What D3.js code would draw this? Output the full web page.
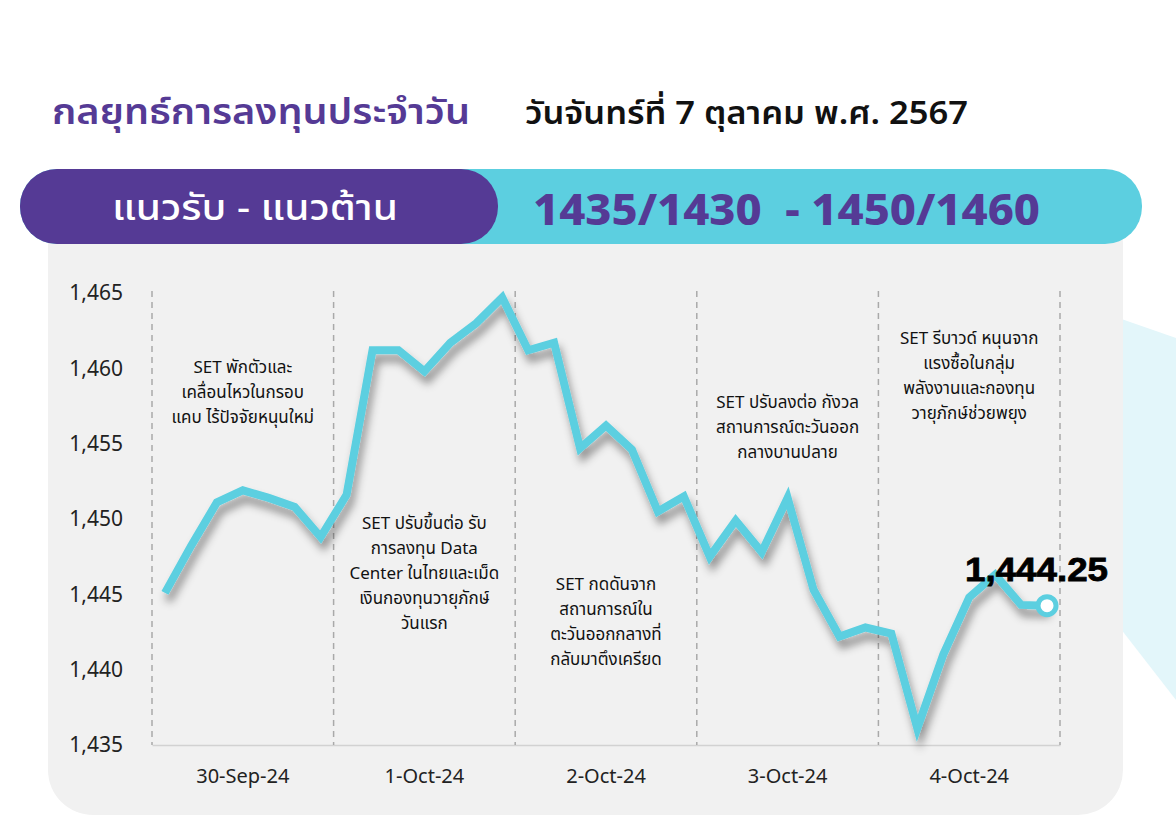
<!DOCTYPE html>
<html><head><meta charset="utf-8">
<script src="https://cdn.jsdelivr.net/npm/d3@7"></script>
<style>html,body{margin:0;padding:0;background:#fff;}svg{display:block;}</style>
</head><body>
<svg id="c" width="1176" height="840"></svg>
<script>
const days = ["30-Sep-24","1-Oct-24","2-Oct-24","3-Oct-24","4-Oct-24"];
const pointsPerDay = 7;
const values = [
  1445.1, 1448.2, 1451.1, 1451.9, 1451.4, 1450.8, 1448.8,
  1451.6, 1461.2, 1461.2, 1459.8, 1461.7, 1463.0, 1464.7,
  1461.2, 1461.7, 1454.7, 1456.2, 1454.6, 1450.5, 1451.5,
  1447.5, 1449.9, 1447.8, 1451.4, 1445.3, 1442.2, 1442.8,
  1442.4, 1436.1, 1441.0, 1444.8, 1446.3, 1444.3, 1444.25
];
const yTicks = [1435, 1440, 1445, 1450, 1455, 1460, 1465];
const notes = [
  ["SET พักตัวและ","เคลื่อนไหวในกรอบ","แคบ ไร้ปัจจัยหนุนใหม่"],
  ["SET ปรับขึ้นต่อ รับ","การลงทุน Data","Center ในไทยและเม็ด","เงินกองทุนวายุภักษ์","วันแรก"],
  ["SET กดดันจาก","สถานการณ์ใน","ตะวันออกกลางที่","กลับมาตึงเครียด"],
  ["SET ปรับลงต่อ กังวล","สถานการณ์ตะวันออก","กลางบานปลาย"],
  ["SET รีบาวด์ หนุนจาก","แรงซื้อในกลุ่ม","พลังงานและกองทุน","วายุภักษ์ช่วยพยุง"]
];
const noteValue = [1459.7, 1449.35, 1445.3, 1457.4, 1461.6];
const title = "กลยุทธ์การลงทุนประจำวัน";
const dateText = "วันจันทร์ที่ 7 ตุลาคม พ.ศ. 2567";
const bandLeft = "แนวรับ - แนวต้าน";
const bandRight = "1435/1430  - 1450/1460";
const lastLabel = "1,444.25";

const purple = "#553a95", cyan = "#5ccfe0";
const font = "'Noto Sans', 'Noto Sans Thai', Roboto, sans-serif";
const svg = d3.select("#c");

const defs = svg.append("defs");
const f = defs.append("filter").attr("id","sh").attr("x","-10%").attr("y","-10%").attr("width","120%").attr("height","130%");
f.append("feDropShadow").attr("dx",3).attr("dy",8).attr("stdDeviation",4).attr("flood-color","#000").attr("flood-opacity",0.4);

// decorative background shape
svg.append("path").attr("d","M1110,315 L1176,338 L1176,700 L1110,615 Z").attr("fill","#e3f6fa");

// panel
svg.append("rect").attr("x",48).attr("y",200).attr("width",1075).attr("height",615).attr("rx",45).attr("fill","#f1f1f1");

// title
svg.append("text").attr("x",52).attr("y",124).attr("font-family",font).attr("font-weight",600)
  .attr("font-size",36).attr("fill",purple).attr("textLength",418).attr("lengthAdjust","spacingAndGlyphs").text(title);
svg.append("text").attr("x",525).attr("y",124).attr("font-family",font).attr("font-weight",600)
  .attr("font-size",32).attr("fill","#111").attr("textLength",443).attr("lengthAdjust","spacingAndGlyphs").text(dateText);

// band
svg.append("rect").attr("x",20).attr("y",169).attr("width",1122).attr("height",75).attr("rx",37).attr("fill",cyan);
svg.append("rect").attr("x",20).attr("y",169).attr("width",478).attr("height",75).attr("rx",37).attr("fill",purple);
svg.append("text").attr("x",112).attr("y",220).attr("font-family",font)
  .attr("font-weight",500).attr("font-size",36).attr("fill","#fff")
  .attr("textLength",286).attr("lengthAdjust","spacingAndGlyphs").text(bandLeft);
svg.append("text").attr("x",533).attr("y",225).attr("font-family",font)
  .attr("font-weight",800).attr("font-size",43).attr("fill",purple).attr("xml:space","preserve")
  .attr("textLength",507).attr("lengthAdjust","spacingAndGlyphs").text(bandRight);

// scales
const x0 = 152, x1 = 1060;
const n = days.length * pointsPerDay;
const xIdx = d3.scaleBand().domain(d3.range(n)).range([x0, x1]);
const xDay = d3.scaleBand().domain(days).range([x0, x1]);
const y = d3.scaleLinear().domain([1435, 1465]).range([745, 293]);

// y axis
const ya = svg.append("g").attr("transform","translate(123,0)")
  .call(d3.axisLeft(y).tickValues(yTicks).tickSize(0).tickPadding(0).tickFormat(d3.format(",")));
ya.select(".domain").remove();
ya.selectAll("text").attr("font-family",font).attr("font-size",21).attr("fill","#222");

// x axis
const xa = svg.append("g").attr("transform","translate(0,745)")
  .call(d3.axisBottom(xDay).tickSize(0).tickPadding(24));
xa.select(".domain").attr("stroke","#d2d2d2").attr("stroke-width",1.5);
xa.selectAll("text").attr("font-family",font).attr("font-size",20).attr("fill","#222");

// dashed separators
const seps = days.map(d => xDay(d)).concat([x1]);
svg.append("g").selectAll("line").data(seps).join("line")
  .attr("x1",d=>d).attr("x2",d=>d).attr("y1",291).attr("y2",745)
  .attr("stroke","#a9a9a9").attr("stroke-width",1.5).attr("stroke-dasharray","6,5");

// annotations
const ng = svg.append("g");
notes.forEach((lines, i) => {
  const cx = xDay(days[i]) + xDay.bandwidth()/2;
  const t = ng.append("text").attr("x",cx).attr("y",y(noteValue[i])).attr("text-anchor","middle")
    .attr("font-family",font).attr("font-size",17).attr("fill","#111");
  lines.forEach((l, j) => t.append("tspan").attr("x",cx).attr("dy", j===0?0:25).text(l));
});

// line
const cx = i => xIdx(i) + xIdx.bandwidth()/2;
const line = d3.line().x((d,i)=>cx(i)).y(d=>y(d));
svg.append("path").datum(values).attr("d",line).attr("fill","none").attr("stroke",cyan)
  .attr("stroke-width",8).attr("stroke-linejoin","miter").attr("filter","url(#sh)");

// end marker
const li = values.length - 1;
svg.append("circle").attr("cx",cx(li)).attr("cy",y(values[li])).attr("r",9)
  .attr("fill","#fff").attr("stroke",cyan).attr("stroke-width",5);
svg.append("text").attr("x",965).attr("y",y(values[li]) - 25)
  .attr("font-family","'Liberation Sans', Arial, sans-serif").attr("font-weight",700)
  .attr("font-size",33).attr("fill","#000").attr("stroke","#000").attr("stroke-width",0.8)
  .attr("textLength",143).attr("lengthAdjust","spacingAndGlyphs").text(lastLabel);
</script>
</body></html>
